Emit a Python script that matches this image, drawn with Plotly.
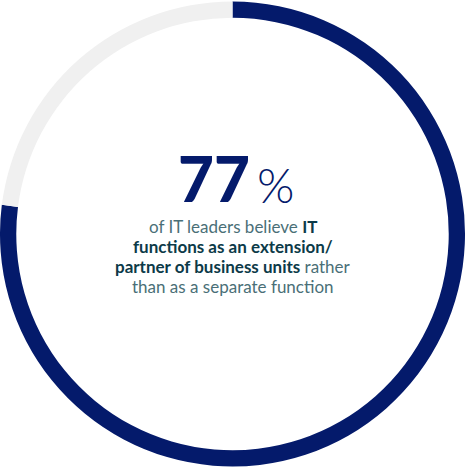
import plotly.graph_objects as go

labels = ["Extension/partner", "Other"]
values = [77, 23]
colors = ["#041a6b", "#f0f0f0"]

headline = "77"
bold_color = "#0c3a48"
body_lines = [
    "of IT leaders believe <b style='color:%s'>IT</b>" % bold_color,
    "<b style='color:%s'>functions as an extension/</b>" % bold_color,
    "<b style='color:%s'>partner of business units</b> rather" % bold_color,
    "than as a separate function",
]

fig = go.Figure(go.Pie(labels=labels, values=values,
                       hole=0.93, sort=False, direction="clockwise",
                       rotation=0,
                       marker=dict(colors=colors, line=dict(width=0)),
                       textinfo="none", hoverinfo="label+percent",
                       showlegend=False))

# big number and percent sign
fig.add_annotation(x=0.543, y=0.62, xref="paper", yref="paper",
                   text=headline, showarrow=False,
                   xanchor="right", yanchor="middle",
                   font=dict(family="Lato", size=62, weight=900, color="#041a6b"))
fig.add_annotation(x=0.548, y=0.605, xref="paper", yref="paper",
                   text="%", showarrow=False,
                   xanchor="left", yanchor="middle",
                   font=dict(family="Lato", size=48, weight=300, color="#041a6b"))

y0 = 0.516
for i, line in enumerate(body_lines):
    fig.add_annotation(x=0.5, y=y0 - i * 0.0425, xref="paper", yref="paper",
                       text=line, showarrow=False,
                       xanchor="center", yanchor="middle",
                       font=dict(family="Lato", size=17, color="#4a6f77"))

fig.update_layout(width=465, height=468,
                  margin=dict(l=0, r=0, t=0, b=0),
                  paper_bgcolor="white", plot_bgcolor="white")
fig.write_html("out.html", config={"displayModeBar": False},
               post_script="document.body.style.margin='0';")
